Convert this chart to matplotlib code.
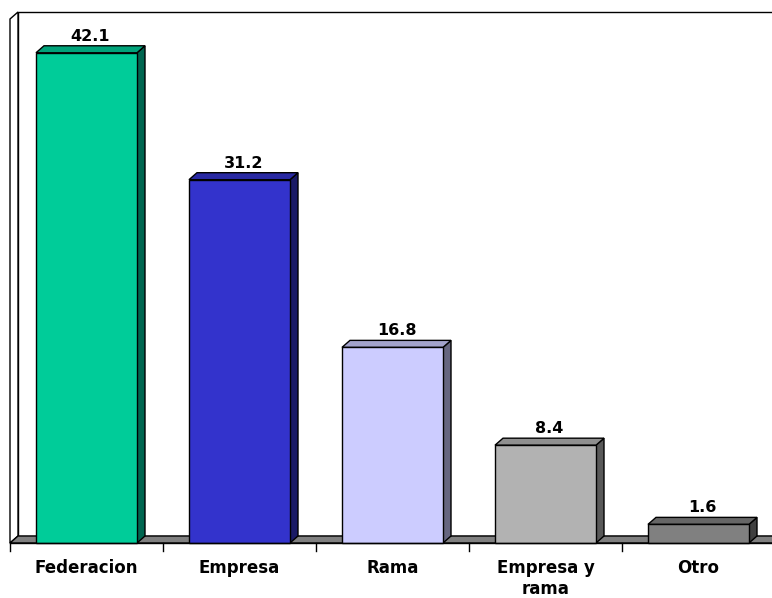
import matplotlib.pyplot as plt
from matplotlib.patches import Polygon, Rectangle

categories = ['Federacion', 'Empresa', 'Rama', 'Empresa y\nrama', 'Otro']
values = [42.1, 31.2, 16.8, 8.4, 1.6]
front_colors = ['#00CC99', '#3333CC', '#CCCCFF', '#B2B2B2', '#808080']
side_colors = ['#006650', '#1A1A66', '#666680', '#595959', '#404040']
top_colors = ['#00A37A', '#2929A3', '#A3A3CC', '#8F8F8F', '#666666']

W, H = 772, 598
fig = plt.figure(figsize=(W / 100, H / 100), dpi=100)
# front plane of the plot area in pixels
x0, x1 = 10, 775
y0, y1 = 543, 19
ax = fig.add_axes([x0 / W, (H - y0) / H, (x1 - x0) / W, (y0 - y1) / H])
ymax = 45
ax.set_xlim(0, 5)
ax.set_ylim(0, ymax)
ax.axis('off')

# depth offset in data units
px_x = 5 / (x1 - x0)
px_y = ymax / (y0 - y1)
dx, dy = 8 * px_x, 7 * px_y

kw = dict(clip_on=False, lw=1, ec='black')
# back wall, left wall, floor
ax.add_patch(Rectangle((dx, dy), 5, ymax, fc='white', zorder=0, **kw))
ax.add_patch(Polygon([(0, 0), (dx, dy), (dx, ymax + dy), (0, ymax)], fc='white', zorder=0, **kw))
ax.add_patch(Polygon([(0, 0), (5, 0), (5 + dx, dy), (dx, dy)], fc='#808080', zorder=1, **kw))
ax.plot([0, 5], [0, 0], color='black', lw=1, clip_on=False, zorder=5)
for t in range(6):
    ax.plot([t, t], [0, -8 * px_y], color='black', lw=1, clip_on=False, zorder=5)

bw = 101 / 153
for i, (v, fcol, scol, tcol) in enumerate(zip(values, front_colors, side_colors, top_colors)):
    l = i + 0.5 - bw / 2
    r = l + bw
    ax.add_patch(Polygon([(r, 0), (r + dx, dy), (r + dx, v + dy), (r, v)], fc=scol, zorder=3, **kw))
    ax.add_patch(Polygon([(l, v), (r, v), (r + dx, v + dy), (l + dx, v + dy)], fc=tcol, zorder=3, **kw))
    ax.add_patch(Rectangle((l, 0), bw, v, fc=fcol, zorder=4, **kw))
    ax.text(i + 0.5 + dx / 2, v + dy + 2 * px_y, f'{v:.1f}', ha='center', va='bottom',
            fontsize=11.5, fontweight='bold', zorder=6)
    ax.text(i + 0.5, -16 * px_y, categories[i], ha='center', va='top',
            fontsize=12, fontweight='bold', linespacing=1.2)

fig.savefig('out.png', dpi=100)
